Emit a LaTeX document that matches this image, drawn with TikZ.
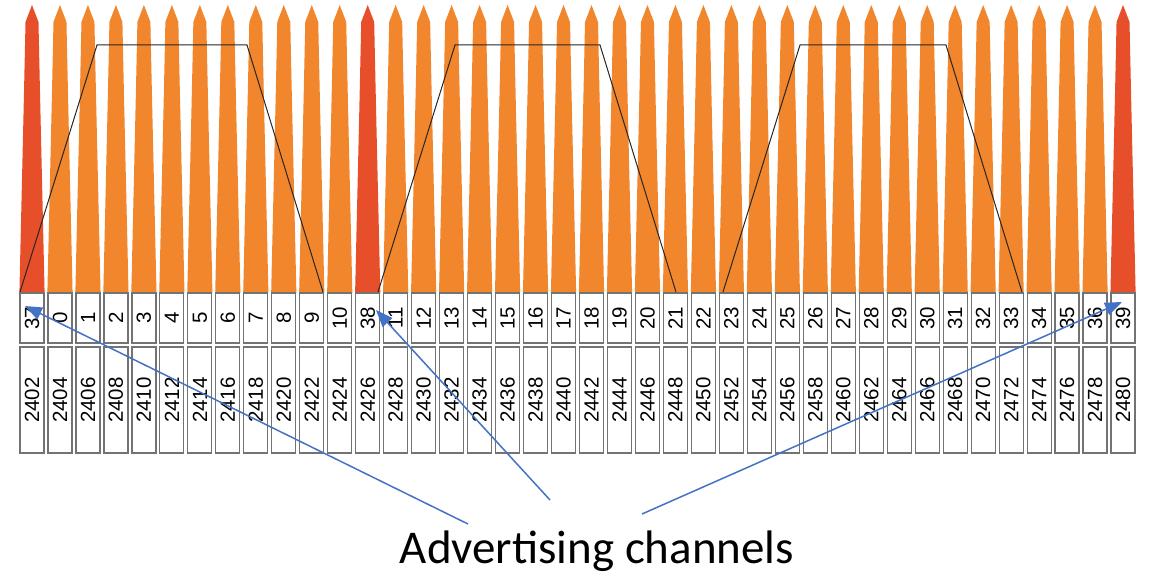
\documentclass[tikz,border=0pt]{standalone}
\usepackage{fontspec}
\newfontfamily\arialf{Liberation Sans}
\newfontfamily\calib{Carlito}
\usetikzlibrary{arrows.meta}
\definecolor{spikeor}{RGB}{241,134,45}
\definecolor{spikered}{RGB}{231,79,43}
\definecolor{arrowblue}{RGB}{68,114,196}
\definecolor{boxline}{RGB}{115,115,115}
\tikzset{
  chbox/.style={draw=boxline, line width=1.2pt, fill=white, rotate=90, inner sep=0pt,
    minimum width=50, minimum height=24, font=\arialf\fontsize{20.5}{21}\selectfont},
  fqbox/.style={draw=boxline, line width=1.2pt, fill=white, rotate=90, inner sep=0pt,
    minimum width=106, minimum height=24, font=\arialf\fontsize{20.5}{21}\selectfont},
  trap/.style={draw=black!85, line width=1pt},
  advarrow/.style={draw=arrowblue, line width=1.5pt, -{Triangle[length=17pt,width=13pt]}},
  lbl/.style={font=\calib\fontsize{47}{56}\selectfont, inner sep=0pt}
}
\begin{document}
\begin{tikzpicture}[x=1pt,y=-1pt]
\useasboundingbox (0,0) rectangle (1150,575);
\foreach \ch/\col [count=\n from 0] in {37/spikered,0/spikeor,1/spikeor,2/spikeor,3/spikeor,4/spikeor,5/spikeor,6/spikeor,7/spikeor,8/spikeor,9/spikeor,10/spikeor,38/spikered,11/spikeor,12/spikeor,13/spikeor,14/spikeor,15/spikeor,16/spikeor,17/spikeor,18/spikeor,19/spikeor,20/spikeor,21/spikeor,22/spikeor,23/spikeor,24/spikeor,25/spikeor,26/spikeor,27/spikeor,28/spikeor,29/spikeor,30/spikeor,31/spikeor,32/spikeor,33/spikeor,34/spikeor,35/spikeor,36/spikeor,39/spikered}{
  \pgfmathsetmacro\C{32+27.975*\n}
  \pgfmathtruncatemacro\fq{2402+2*\n}
  \fill[\col] (\C,5) -- (\C+6.5,22) .. controls (\C+8.5,120) and (\C+11,220) .. (\C+12.6,293)
     -- (\C-12.6,293) .. controls (\C-11,220) and (\C-8.5,120) .. (\C-6.5,22) -- cycle;
  \node[chbox] (c\n) at (\C,318) {\ch};
  \node[fqbox] (f\n) at (\C,400) {\fq};
}
\draw[trap] (20,292) -- (97,45) -- (247,45) -- (323,292);
\draw[trap] (378,292) -- (455,45) -- (600,45) -- (676,292);
\draw[trap] (723,292) -- (800,45) -- (946,45) -- (1022,292);
\node[lbl, anchor=base] (label) at (597,563) {Advertising channels};
\coordinate (s1) at (468,524);
\coordinate (s2) at (550,500);
\coordinate (s3) at (642,514);
\coordinate (t1) at (25,306);
\coordinate (t2) at (376,310);
\coordinate (t3) at (1122,302);
\draw[advarrow] (s1) -- (t1);
\draw[advarrow] (s2) -- (t2);
\draw[advarrow] (s3) -- (t3);
\end{tikzpicture}
\end{document}
